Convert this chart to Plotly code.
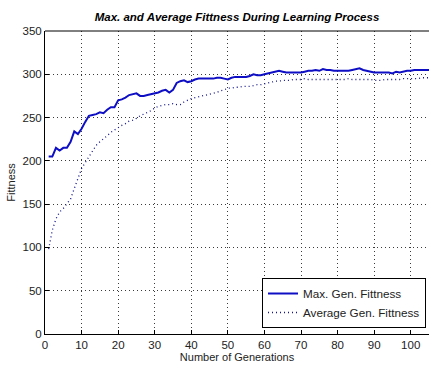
import plotly.graph_objects as go

generations = list(range(1, 106))

max_fitness = [
    205, 205, 215, 212, 215, 215, 222, 234, 231, 237,
    245, 252, 253, 254, 256, 255, 259, 262, 262, 270,
    271, 273, 276, 277, 278, 275, 275, 276, 277, 278,
    279, 281, 282, 279, 282, 290, 292, 293, 291, 292,
    294, 295, 295, 295, 295, 295, 296, 296, 295, 294,
    296, 297, 297, 297, 297, 298, 300, 299, 299, 300,
    301, 302, 303, 304, 303, 302, 302, 302, 302, 302,
    303, 304, 304, 305, 304, 306, 305, 305, 304, 304,
    304, 304, 304, 305, 306, 307, 305, 304, 303, 302,
    302, 302, 302, 302, 301, 303, 302, 303, 304, 304,
    305, 305, 305, 305, 305,
]

avg_fitness = [
    98, 120, 133, 141, 145, 150, 156, 168, 180, 191,
    198, 205, 212, 218, 222, 225, 229, 233, 236, 239,
    241, 243, 246, 247, 249, 252, 254, 256, 258, 261,
    263, 264, 265, 265, 266, 265, 265, 268, 270, 272,
    273, 274, 275, 276, 277, 278, 279, 281, 282, 284,
    284, 285, 285, 286, 286, 286, 287, 288, 288, 289,
    290, 291, 292, 292, 293, 293, 293, 294, 294, 294,
    295, 294, 294, 294, 294, 294, 294, 294, 294, 294,
    294, 294, 295, 294, 294, 294, 294, 294, 294, 293,
    293, 293, 294, 294, 294, 294, 294, 295, 295, 295,
    295, 295, 296, 296, 296,
]

x_ticks = [0, 10, 20, 30, 40, 50, 60, 70, 80, 90, 100]
y_ticks = [0, 50, 100, 150, 200, 250, 300, 350]

FONT = "Liberation Sans, Arial, sans-serif"
GRID = dict(showgrid=True, gridcolor="#3a3a3a", griddash="1px,3px", gridwidth=1)

fig = go.Figure()
fig.add_trace(go.Scatter(
    x=generations, y=max_fitness, mode="lines", name="Max. Gen. Fittness",
    line=dict(color="#0e0ec4", width=2),
))
fig.add_trace(go.Scatter(
    x=generations, y=avg_fitness, mode="lines", name="Average Gen. Fittness",
    line=dict(color="#14148c", width=1.3, dash="1px,3px"),
))

fig.update_layout(
    width=429, height=365,
    margin=dict(l=45, r=0, t=31, b=31),
    paper_bgcolor="white", plot_bgcolor="white",
    font=dict(family=FONT, size=11, color="#222"),
    title=dict(
        text="<b><i>Max. and Average Fittness During Learning Process</i></b>",
        x=237 / 429, xanchor="center", y=1 - 17 / 365, yanchor="middle",
        font=dict(family=FONT, size=11.5, color="black"),
    ),
    xaxis=dict(
        range=[0, 105], tickmode="array", tickvals=x_ticks,
        ticks="inside", ticklen=4, tickcolor="black",
        showline=True, linecolor="black", linewidth=1, mirror=False,
        zeroline=False, **GRID,
        title=dict(text="Number of Generations", standoff=3,
                   font=dict(family=FONT, size=11, color="#222")),
        tickfont=dict(family=FONT, size=11.5, color="#222"),
    ),
    yaxis=dict(
        range=[0, 350], tickmode="array", tickvals=y_ticks,
        ticks="inside", ticklen=4, tickcolor="black",
        showline=True, linecolor="black", linewidth=1, mirror=False,
        zeroline=False, **GRID,
        title=dict(text="Fittness", standoff=4,
                   font=dict(family=FONT, size=11, color="#222")),
        tickfont=dict(family=FONT, size=11.5, color="#222"),
    ),
    legend=dict(
        x=(426 - 45) / 384, xanchor="right",
        y=(334 - 328) / 303, yanchor="bottom",
        bgcolor="white", bordercolor="black", borderwidth=1,
        font=dict(family=FONT, size=11.7, color="#222"),
        tracegroupgap=0, itemwidth=30,
    ),
    showlegend=True,
)

# top border of the axes box
fig.add_shape(type="line", xref="paper", yref="paper", x0=0, x1=1, y0=1, y1=1,
              line=dict(color="black", width=1))

fig.write_html("out.html")
